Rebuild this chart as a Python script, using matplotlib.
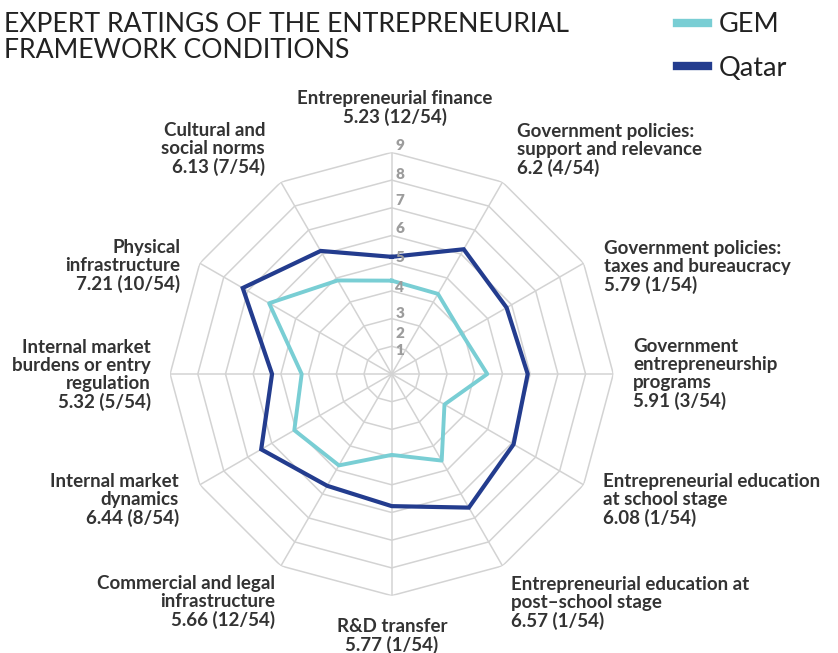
import numpy as np
import matplotlib.pyplot as plt
from matplotlib.lines import Line2D

plt.rcParams["font.family"] = ["Lato", "DejaVu Sans"]

# data
categories = [
    "Entrepreneurial finance",
    "Government policies:\nsupport and relevance",
    "Government policies:\ntaxes and bureaucracy",
    "Government\nentrepreneurship\nprograms",
    "Entrepreneurial education\nat school stage",
    "Entrepreneurial education at\npost\u2013school stage",
    "R&D transfer",
    "Commercial and legal\ninfrastructure",
    "Internal market\ndynamics",
    "Internal market\nburdens or entry\nregulation",
    "Physical\ninfrastructure",
    "Cultural and\nsocial norms",
]
qatar = [5.23, 6.2, 5.79, 5.91, 6.08, 6.57, 5.77, 5.66, 6.44, 5.32, 7.21, 6.13]
qatar_rank = ["12/54", "4/54", "1/54", "3/54", "1/54", "1/54",
              "1/54", "12/54", "8/54", "5/54", "10/54", "7/54"]
gem = [4.37, 4.34, 3.92, 4.45, 3.2, 4.61, 3.92, 4.81, 5.06, 4.25, 6.11, 4.9]
rings = [2, 3, 4, 5, 6, 7, 8, 9]
ring_labels = ["1", "2", "3", "4", "5", "6", "7", "8", "9"]

# layout (pixels in an 838x653 image, y from top)
W, H = 838, 653
label_pos = [  # x, y of block centre, alignment
    (395, 108, "center"), (517, 150, "left"), (604, 267, "left"),
    (633, 374, "left"), (603, 500, "left"), (511, 603, "left"),
    (392, 636, "center"), (275, 602, "right"), (179, 500, "right"),
    (151, 375, "right"), (180, 266, "right"), (265, 149, "right"),
]
ring_label_r = [1.86, 2.45, 3.2, 4.13, 5.21, 6.25, 7.27, 8.22, 9.25]

gem_color = "#79ced4"
qatar_color = "#233c8e"
grid_color = "#d3d3d3"
text_color = "#333333"

fig = plt.figure(figsize=(W / 100, H / 100), dpi=100)
cx, cy, rad = 391.7, 374.0, 221.6
ax = fig.add_axes([(cx - rad) / W, (H - cy - rad) / H, 2 * rad / W, 2 * rad / H],
                  projection="polar")
ax.set_theta_zero_location("N")
ax.set_theta_direction(-1)
ax.set_ylim(1, 9)
ax.set_xticks([])
ax.set_yticks([])
ax.grid(False)
ax.spines["polar"].set_visible(False)
ax.patch.set_visible(False)

n = len(categories)
theta = np.deg2rad(np.arange(n) * 360 / n)
tc = np.append(theta, theta[0])

for r in rings:
    ax.plot(tc, [r] * (n + 1), color=grid_color, lw=1.1, zorder=1)
for t in theta:
    ax.plot([t, t], [1, 9], color=grid_color, lw=1.1, zorder=1)

ax.plot(tc, gem + gem[:1], color=gem_color, lw=2.8, zorder=3,
        solid_joinstyle="round")
ax.plot(tc, qatar + qatar[:1], color=qatar_color, lw=3.0, zorder=4,
        solid_joinstyle="miter")

for s, r in zip(ring_labels, ring_label_r):
    ax.annotate(s, xy=(0, r), xytext=(2.5, 0), textcoords="offset points",
                ha="left", va="center", fontsize=11, fontweight="heavy",
                color="#9c9c9c", zorder=5, annotation_clip=False)

for cat, v, rk, (x, y, al) in zip(categories, qatar, qatar_rank, label_pos):
    fig.text(x / W, 1 - y / H, f"{cat}\n{v:g} ({rk})", ha=al, va="center",
             multialignment=al, fontsize=13.5, fontweight="bold",
             color=text_color, linespacing=1.09)

fig.text(4 / W, 1 - 12 / H, "EXPERT RATINGS OF THE ENTREPRENEURIAL\nFRAMEWORK CONDITIONS",
         ha="left", va="top", fontsize=19.2, color="#222222", linespacing=1.03)

handles = [Line2D([], [], color=gem_color, lw=6),
           Line2D([], [], color=qatar_color, lw=6)]
fig.legend(handles, ["GEM", "Qatar"], loc="upper left",
           bbox_to_anchor=(677 / W, 1 - 12 / H), frameon=False, fontsize=19.5,
           handlelength=1.15, handletextpad=0.4, labelspacing=0.7,
           borderaxespad=0, borderpad=0, labelcolor="#222222")

fig.savefig("out.png", dpi=100)
